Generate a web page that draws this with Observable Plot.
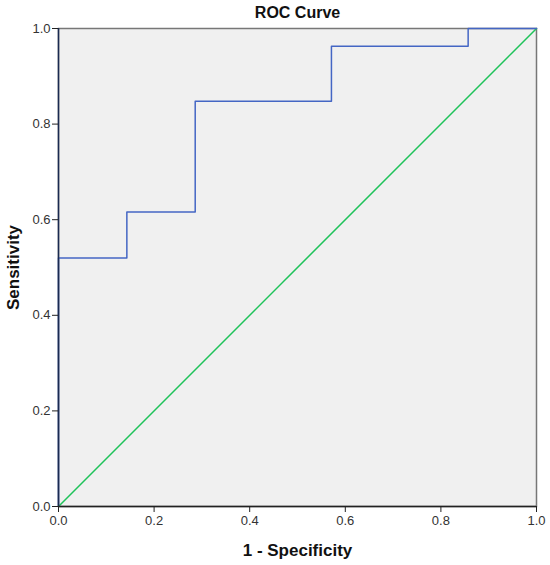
<!DOCTYPE html>
<html>
<head>
<meta charset="utf-8">
<script src="https://cdn.jsdelivr.net/npm/d3@7"></script>
<script src="https://cdn.jsdelivr.net/npm/@observablehq/plot@0.6"></script>
<style>
  html, body { margin: 0; padding: 0; background: #fff; }
  svg { display: block; }
</style>
</head>
<body>
<div id="chart"></div>
<script>
// ROC curve coordinates (1 - Specificity, Sensitivity)
const fpr = [0, 0, 0.143, 0.286, 0.571, 0.857, 1.0];
const tpr = [0, 0.52, 0.616, 0.848, 0.963, 1.0, 1.0];
// Reference (diagonal) line
const refX = [0, 1];
const refY = [0, 1];
const ticks = [0, 0.2, 0.4, 0.6, 0.8, 1.0];

const roc = fpr.map((x, i) => ({x, y: tpr[i]}));
const ref = refX.map((x, i) => ({x, y: refY[i]}));

const font = "Liberation Sans, Arial, sans-serif";

const chart = Plot.plot({
  width: 550,
  height: 565,
  marginLeft: 58,
  marginRight: 14,
  marginTop: 28,
  marginBottom: 59,
  style: {fontFamily: font, fontSize: "13px", color: "#222", background: "#fff"},
  x: {domain: [0, 1], ticks, tickFormat: d3.format(".1f"), label: null},
  y: {domain: [0, 1], ticks, tickFormat: d3.format(".1f"), label: null},
  marks: [
    Plot.frame({fill: "#f0f0f0", stroke: "#777", strokeWidth: 1.5}),
    Plot.line(ref, {x: "x", y: "y", stroke: "#1fc35a", strokeWidth: 1.5}),
    Plot.line(roc, {x: "x", y: "y", curve: "step-after", stroke: "#4466c4", strokeWidth: 1.5}),
    Plot.ruleX([0], {stroke: "#1a2a50", strokeWidth: 1.5}),
    Plot.ruleY([0], {stroke: "#222", strokeWidth: 1.5}),
    Plot.axisX({ticks, tickFormat: d3.format(".1f"), tickSize: 6, tickPadding: 3, fontSize: 13, fill: "#333", stroke: "#222", label: null}),
    Plot.axisY({ticks, tickFormat: d3.format(".1f"), tickSize: 6, tickPadding: 2, fontSize: 13, fill: "#333", stroke: "#222", label: null}),
    Plot.text(["ROC Curve"], {frameAnchor: "top", lineAnchor: "middle", dy: -16, fontSize: 16, fontWeight: "bold", fill: "#111"}),
    Plot.text(["1 - Specificity"], {frameAnchor: "bottom", lineAnchor: "middle", dy: 44, fontSize: 17, fontWeight: "bold", fill: "#111"}),
    Plot.text(["Sensitivity"], {frameAnchor: "left", textAnchor: "middle", lineAnchor: "middle", dx: -45, rotate: -90, fontSize: 17, fontWeight: "bold", fill: "#111"})
  ]
});
document.getElementById("chart").appendChild(chart);
</script>
</body>
</html>
